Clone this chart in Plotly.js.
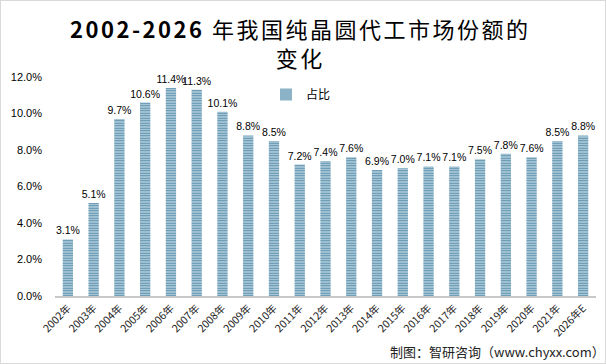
<!DOCTYPE html>
<html><head><meta charset="utf-8">
<script src="https://cdn.plot.ly/plotly-3.0.1.min.js"></script>
<style>html,body{margin:0;padding:0;background:#fff}#c{width:606px;height:364px}
#frame{position:absolute;left:0;top:0;width:604px;height:362px;border:1px solid #d9d9d9;pointer-events:none}</style>
</head><body><div id="c"></div><div id="frame"></div>
<script>
var categories = ["2002年","2003年","2004年","2005年","2006年","2007年","2008年","2009年","2010年","2011年","2012年","2013年","2014年","2015年","2016年","2017年","2018年","2019年","2020年","2021年","2026年E"];
var shares = [3.1,5.1,9.7,10.6,11.4,11.3,10.1,8.8,8.5,7.2,7.4,7.6,6.9,7.0,7.1,7.1,7.5,7.8,7.6,8.5,8.8];
var seriesName = "占比";
var yTicks = [0,2,4,6,8,10,12];
var titleYears = "2002-2026";
var titleLines = " 年我国纯晶圆代工市场份额的";
var titleLine2 = "变化";
var fontCJK = "'Noto Sans CJK SC', 'Noto Sans', sans-serif";

var trace = {
  type: "bar", x: categories, y: shares, name: seriesName,
  text: shares.map(function(v){return v.toFixed(1)+"%";}),
  textposition: "outside", cliponaxis: false, constraintext: "none",
  textfont: {family: "'Liberation Sans', Arial, sans-serif", size: 10.5, color: "#000"},
  marker: {color: "#bcd7e3", line: {width: 0},
    pattern: {shape: "-", fgcolor: "#5a8eaa", bgcolor: "#bcd7e3", size: 2.5, solidity: 0.5}}
};
var H = 364, T = 77, B = 68, PH = H - T - B;
function py(pix){ return (H - B - pix) / PH; }
var sp = '<span style="letter-spacing:2.5px">';
var layout = {
  width: 606, height: 364,
  margin: {l: 55, r: 10, t: T, b: B},
  paper_bgcolor: "#fff", plot_bgcolor: "#fff",
  bargap: 0.6,
  showlegend: true,
  legend: {x: 0.39, y: py(80), xanchor: "left", yanchor: "top", bgcolor: "rgba(0,0,0,0)",
    itemwidth: 30, tracegroupgap: 0,
    font: {family: fontCJK, size: 12, color: "#000"}},
  xaxis: {type: "category", tickangle: -45, showgrid: false, showline: true, linecolor: "#c8c8c8", linewidth: 2,
    ticks: "", tickfont: {family: fontCJK, size: 10.5, color: "#222"}},
  yaxis: {range: [0, 12], tickvals: yTicks, ticktext: yTicks.map(function(v){return v.toFixed(1)+"%";}),
    showgrid: false, zeroline: false, showline: false, ticks: "", ticklabelstandoff: 12,
    tickfont: {family: "'Liberation Sans', Arial, sans-serif", size: 11, color: "#000"}},
  annotations: [
    {text: sp + "<b>" + titleYears + "</b>" + titleLines + "</span><br>" + sp + titleLine2 + "</span>",
      xref: "paper", yref: "paper", x: 0.453, y: py(43), xanchor: "center", yanchor: "middle", align: "center",
      showarrow: false, font: {family: fontCJK, size: 22, color: "#000"}},
    {text: "制图：智研咨询（www.chyxx.com）", xref: "paper", yref: "paper", x: 1.02, y: py(351), xanchor: "right", yanchor: "middle",
    showarrow: false, font: {family: fontCJK, size: 13, color: "#222"}}]
};
Plotly.newPlot("c", [trace], layout, {displayModeBar: false, staticPlot: true});
</script></body></html>
